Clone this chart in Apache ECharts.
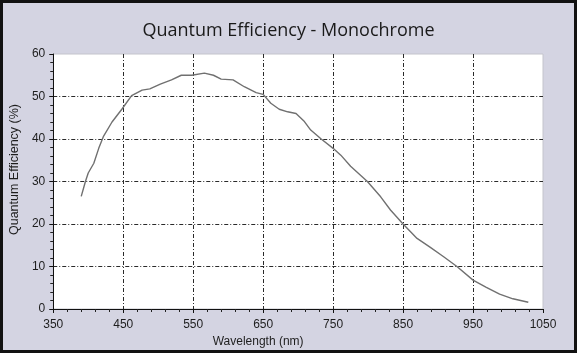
<!DOCTYPE html>
<html>
<head>
<meta charset="utf-8">
<script src="https://cdn.jsdelivr.net/npm/echarts@6/dist/echarts.min.js"></script>
<style>
  html, body { margin: 0; padding: 0; }
  #chart { width: 577px; height: 353px; background: #d4d4e2; }
</style>
</head>
<body>
<div id="chart"></div>
<script>
// wavelength (nm) and quantum efficiency (%)
const wavelengths = [390, 396, 400, 408, 415, 422, 434, 448, 462, 477, 488, 503, 519, 533, 548,
  566, 579, 590, 607, 623, 640, 650, 661, 673, 685, 697, 709, 718, 733, 750, 761, 775, 799,
  818, 832, 850, 870, 889, 908, 927, 950, 969, 988, 1007, 1029]
const efficiency = [26.5, 30, 32, 34.3, 37.8, 40.7, 44, 47, 50.2, 51.5, 51.8, 52.9, 53.9, 55, 55,
  55.5, 55, 54.1, 53.9, 52.3, 50.9, 50.5, 48.4, 47, 46.4, 46, 44.1, 42.1, 40, 37.8, 36.2, 33.6, 30,
  26.4, 23.3, 20, 16.6, 14.5, 12.3, 10, 6.8, 5.1, 3.5, 2.4, 1.6]

const xRange = { min: 350, max: 1050, interval: 100 }
const yRange = { min: 0, max: 60, interval: 10 }

const labelFont = { fontFamily: 'Liberation Sans', fontSize: 12, color: '#1e1e1e' }
const gridDash = { color: '#2a2a2a', width: 1, type: [4, 2, 1, 2] }
const minor = { show: true, splitNumber: 5, length: 3, lineStyle: { color: '#222' } }

const chart = echarts.init(document.getElementById('chart'))

chart.setOption({
  animation: false,
  title: {
    text: 'Quantum Efficiency - Monochrome',
    left: 'center',
    top: 17,
    textStyle: { fontFamily: 'Open Sans', fontSize: 18, fontWeight: 'normal', color: '#1a1a1a' },
  },
  graphic: [
    {
      type: 'rect',
      shape: { x: 1.5, y: 1.5, width: 574, height: 350 },
      style: { fill: null, stroke: '#111', lineWidth: 3 },
      silent: true,
    },
  ],
  grid: {
    left: 51,
    right: 34,
    top: 54,
    bottom: 44,
    show: true,
    backgroundColor: '#fff',
    borderColor: '#c4c4cc',
    borderWidth: 1,
  },
  xAxis: {
    type: 'value',
    ...xRange,
    name: 'Wavelength (nm)',
    nameLocation: 'middle',
    nameGap: 24,
    nameTextStyle: { ...labelFont, padding: [0, 80, 0, 0] },
    axisLine: { show: true, lineStyle: { color: '#111', width: 1 } },
    axisTick: { show: true, length: 4, lineStyle: { color: '#111' } },
    minorTick: minor,
    axisLabel: { ...labelFont, margin: 10, formatter: (v) => String(v) },
    splitLine: { show: true, showMinLine: false, showMaxLine: false, lineStyle: gridDash },
  },
  yAxis: {
    type: 'value',
    ...yRange,
    name: 'Quantum Efficiency (%)',
    nameLocation: 'middle',
    nameGap: 29,
    nameTextStyle: { ...labelFont, fontSize: 12.5, padding: [0, 0, 0, 24] },
    axisLine: { show: true, lineStyle: { color: '#111', width: 1 } },
    axisTick: { show: true, length: 4, lineStyle: { color: '#111' } },
    minorTick: minor,
    axisLabel: { ...labelFont, margin: 8 },
    splitLine: { show: true, showMinLine: false, showMaxLine: false, lineStyle: gridDash },
  },
  series: [
    {
      type: 'line',
      data: wavelengths.map((w, i) => [w, efficiency[i]]),
      symbol: 'none',
      smooth: false,
      lineStyle: { color: '#707070', width: 1.4 },
    },
  ],
})
</script>
</body>
</html>
